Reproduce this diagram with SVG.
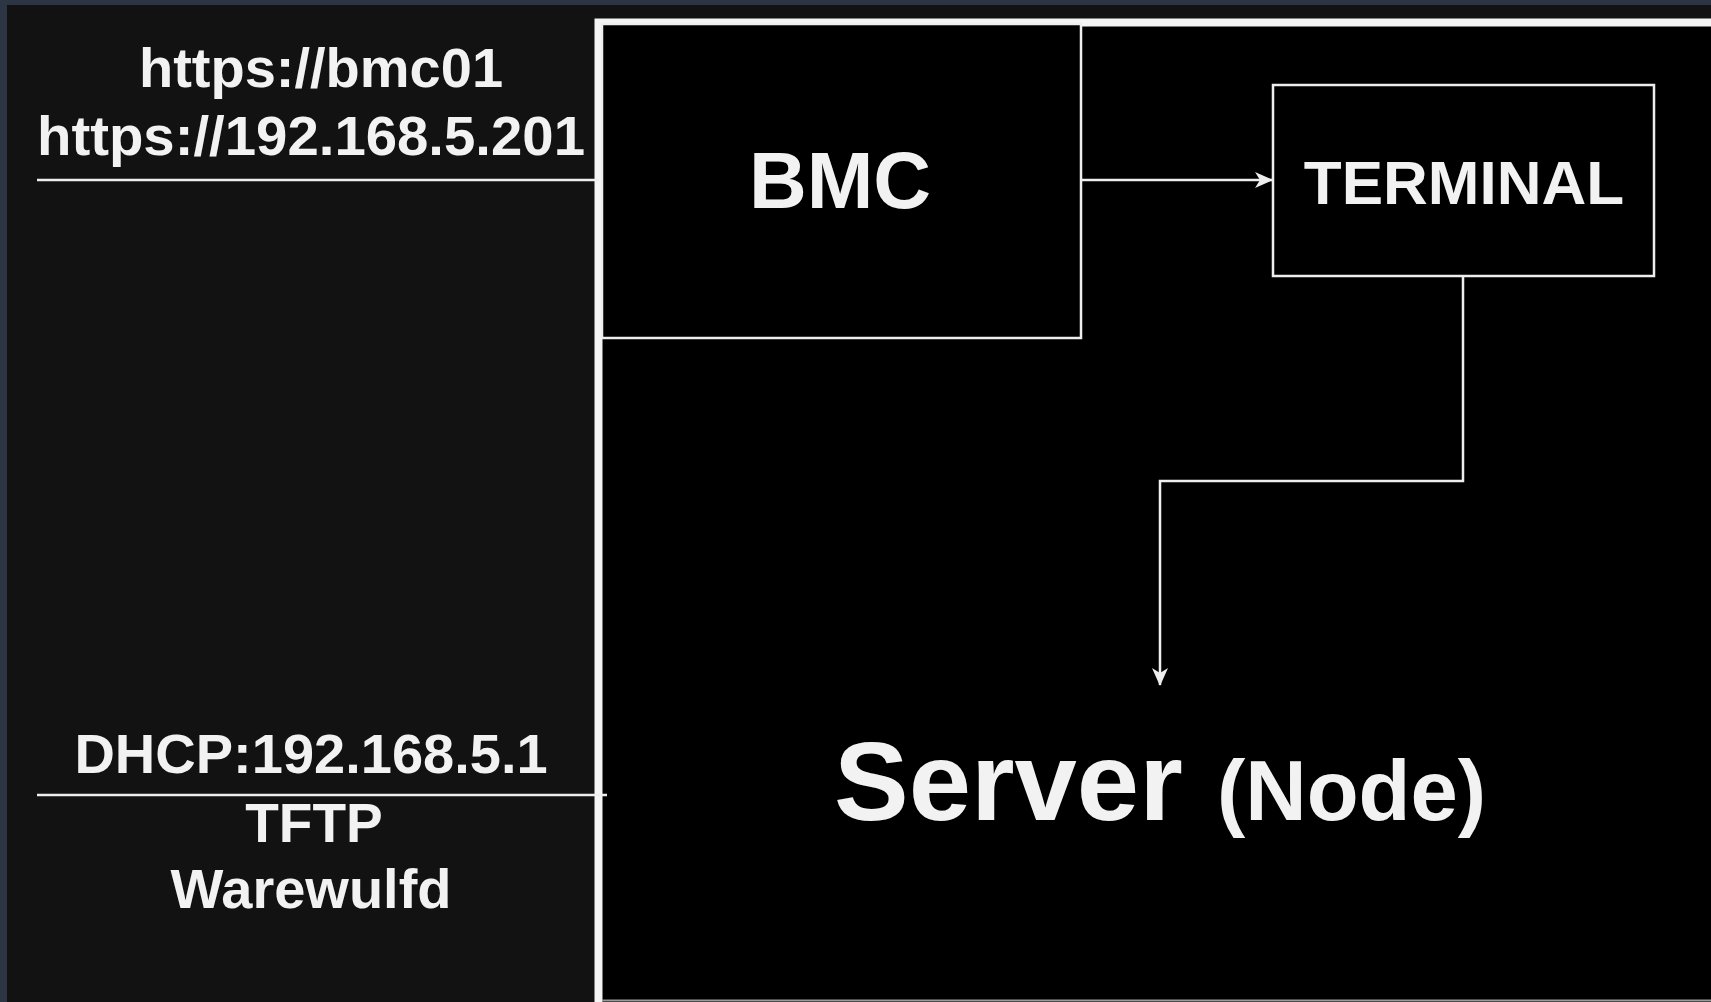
<svg xmlns="http://www.w3.org/2000/svg" width="1711" height="1002" viewBox="0 0 1711 1002">
  <defs>
    <style>
      .lbl { font-family: "Liberation Sans", Arial, sans-serif; font-weight: bold; fill: #f2f2f2; }
      .box { fill: #000000; stroke: #eeeeee; stroke-width: 2.5; }
      .wire { fill: none; stroke: #eeeeee; stroke-width: 2.5; }
    </style>
    <marker id="arrow" viewBox="0 0 18 16" refX="17" refY="8" markerWidth="18" markerHeight="16" markerUnits="userSpaceOnUse" orient="auto">
      <path d="M0,0 L18,8 L0,16 L5,8 Z" fill="#eeeeee"/>
    </marker>
  </defs>

  <!-- window frame and canvas -->
  <rect x="0" y="0" width="1711" height="1002" fill="#2b3544"/>
  <rect x="7" y="5" width="1704" height="997" fill="#121212"/>

  <!-- Server (Node) container -->
  <g id="server-node">
    <rect x="598.5" y="22.5" width="1200" height="990" fill="#000000" stroke="#f4f4f4" stroke-width="8"/>
    <line x1="602" y1="1000.5" x2="1711" y2="1000.5" stroke="#9a9a9a" stroke-width="2"/>
    <text class="lbl" y="820"><tspan x="834" font-size="112">Server</tspan><tspan x="1217" font-size="85">(Node)</tspan></text>
  </g>

  <!-- BMC -->
  <g id="bmc">
    <rect class="box" x="602" y="24" width="479" height="314"/>
    <text class="lbl" x="840" y="208" font-size="80" text-anchor="middle">BMC</text>
  </g>

  <!-- TERMINAL -->
  <g id="terminal">
    <rect class="box" x="1273" y="85" width="381" height="191"/>
    <text class="lbl" x="1464" y="204" font-size="62" text-anchor="middle">TERMINAL</text>
  </g>

  <!-- BMC address label -->
  <g id="bmc-address">
    <text class="lbl" x="321" y="87" font-size="56" text-anchor="middle">https://bmc01</text>
    <text class="lbl" x="311" y="155" font-size="55" text-anchor="middle" textLength="548" lengthAdjust="spacingAndGlyphs">https://192.168.5.201</text>
    <line x1="37" y1="180" x2="599" y2="180" stroke="#eeeeee" stroke-width="2.5"/>
  </g>

  <!-- provisioning services label -->
  <g id="provisioning">
    <text class="lbl" x="311" y="773" font-size="56" text-anchor="middle">DHCP:192.168.5.1</text>
    <line x1="37" y1="795" x2="607" y2="795" stroke="#eeeeee" stroke-width="2.5"/>
    <text class="lbl" x="314" y="842" font-size="55" text-anchor="middle">TFTP</text>
    <text class="lbl" x="311" y="908" font-size="56" text-anchor="middle">Warewulfd</text>
  </g>

  <!-- connectors -->
  <g id="connectors">
    <path class="wire" d="M1081,180 L1272,180" marker-end="url(#arrow)"/>
    <path class="wire" d="M1463,276 L1463,481 L1160,481 L1160,685" marker-end="url(#arrow)"/>
  </g>
</svg>
